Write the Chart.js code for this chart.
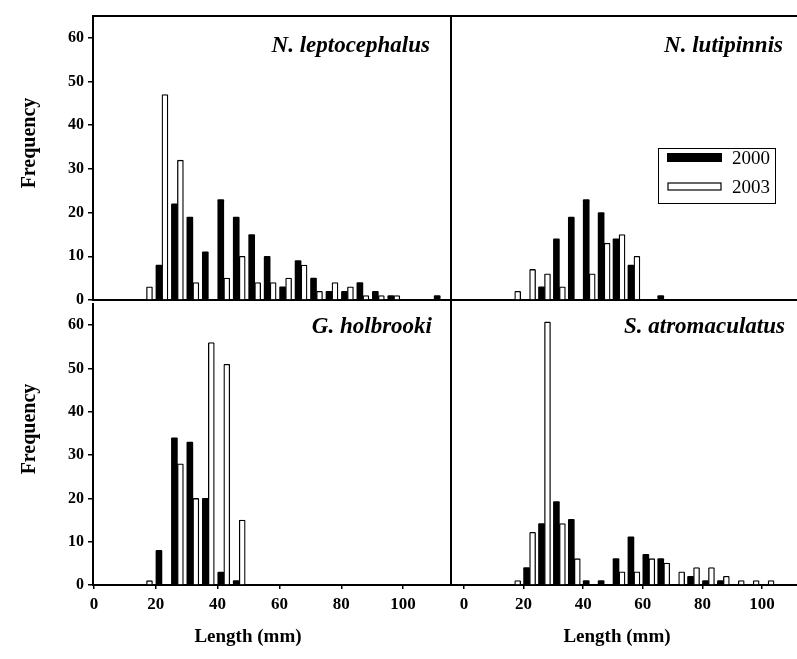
<!DOCTYPE html>
<html>
<head>
<meta charset="utf-8">
<script src="https://cdn.jsdelivr.net/npm/chart.js@4.4.0/dist/chart.umd.min.js"></script>
<style>
  body { margin: 0; background: #fff; width: 797px; height: 659px; position: relative; overflow: hidden; }
  canvas { position: absolute; }
</style>
</head>
<body>
<canvas id="tl" width="452" height="320" style="left:0;top:0"></canvas>
<canvas id="tr" width="357" height="320" style="left:440px;top:0"></canvas>
<canvas id="bl" width="452" height="369" style="left:0;top:290px"></canvas>
<canvas id="br" width="357" height="369" style="left:440px;top:290px"></canvas>
<script>
// length classes (mm, class midpoints) shared by all four panels
const bins = [17, 22, 27, 32, 37, 42, 47, 52, 57, 62, 67, 72, 77, 82, 87, 92, 97, 102, 107, 112];
const xTicks = [0, 20, 40, 60, 80, 100];
const yTicks = [0, 10, 20, 30, 40, 50, 60];
const years = ['2000', '2003'];

const leptocephalus2000 = [0, 8, 22, 19, 11, 23, 19, 15, 10, 3, 9, 5, 2, 2, 4, 2, 1, 0, 0, 1];
const leptocephalus2003 = [3, 47, 32, 4, 0, 5, 10, 4, 4, 5, 8, 2, 4, 3, 1, 1, 1, 0, 0, 0];
const lutipinnis2000 = [0, 0, 3, 14, 19, 23, 20, 14, 8, 0, 1, 0, 0, 0, 0, 0, 0, 0, 0, 0];
const lutipinnis2003 = [2, 7, 6, 3, 0, 6, 13, 15, 10, 0, 0, 0, 0, 0, 0, 0, 0, 0, 0, 0];
const holbrooki2000 = [0, 8, 34, 33, 20, 3, 1, 0, 0, 0, 0, 0, 0, 0, 0, 0, 0, 0, 0, 0];
const holbrooki2003 = [1, 0, 28, 20, 56, 51, 15, 0, 0, 0, 0, 0, 0, 0, 0, 0, 0, 0, 0, 0];
const atromaculatus2000 = [0, 4, 14, 19, 15, 1, 1, 6, 11, 7, 6, 0, 2, 1, 1, 0, 0, 0, 0, 0];
const atromaculatus2003 = [1, 12, 60, 14, 6, 0, 0, 3, 3, 6, 5, 3, 4, 4, 2, 1, 1, 1, 0, 1];

const serif = '"Liberation Serif", "Times New Roman", serif';

// species names, axis titles, legend and the top frame line
const panelText = {
  id: 'panelText',
  afterDraw(chart, args, opts) {
    const ctx = chart.ctx;
    const area = chart.chartArea;
    ctx.save();
    ctx.fillStyle = '#000';
    ctx.strokeStyle = '#000';

    if (opts.topLine) {
      ctx.lineWidth = 2;
      ctx.beginPath();
      ctx.moveTo(area.left, area.top);
      ctx.lineTo(area.right, area.top);
      ctx.stroke();
    }

    ctx.font = 'italic bold 23px ' + serif;
    ctx.textAlign = 'right';
    ctx.textBaseline = 'alphabetic';
    ctx.fillText(opts.name, opts.nameX, opts.nameY);

    if (opts.freq) {
      ctx.save();
      ctx.translate(opts.freq[0], opts.freq[1]);
      ctx.rotate(-Math.PI / 2);
      ctx.font = 'bold 20px ' + serif;
      ctx.textAlign = 'center';
      ctx.textBaseline = 'middle';
      ctx.fillText('Frequency', 0, 0);
      ctx.restore();
    }

    if (opts.length) {
      ctx.font = 'bold 19px ' + serif;
      ctx.textAlign = 'center';
      ctx.textBaseline = 'middle';
      ctx.fillText('Length (mm)', opts.length[0], opts.length[1]);
    }

    if (opts.legend) {
      const [lx, ly] = opts.legend;
      const sets = chart.data.datasets;
      ctx.lineWidth = 1;
      ctx.strokeRect(lx + 0.5, ly + 0.5, 117, 55);
      ctx.fillRect(lx + 9, ly + 5, 55, 9);
      ctx.fillStyle = '#fff';
      ctx.fillRect(lx + 10, ly + 35, 53, 7);
      ctx.lineWidth = 1.2;
      ctx.strokeRect(lx + 10, ly + 35, 53, 7);
      ctx.fillStyle = '#000';
      ctx.font = '19px ' + serif;
      ctx.textAlign = 'left';
      ctx.textBaseline = 'middle';
      ctx.fillText(sets[0].label, lx + 74, ly + 11);
      ctx.fillText(sets[1].label, lx + 74, ly + 40);
    }
    ctx.restore();
  }
};

function makeChart(id, a2000, a2003, cfg) {
  const left = cfg.left;
  const bottom = cfg.bottom;
  new Chart(document.getElementById(id), {
    type: 'bar',
    data: {
      datasets: [
        {
          label: years[0],
          data: bins.map((b, i) => ({ x: b, y: a2000[i] })),
          backgroundColor: '#000',
          borderColor: '#000',
          borderWidth: 0,
          borderRadius: 1,
          barThickness: 6,
        },
        {
          label: years[1],
          data: bins.map((b, i) => ({ x: b, y: a2003[i] })),
          backgroundColor: '#fff',
          borderColor: '#000',
          borderWidth: 1.3,
          borderRadius: 1,
          barThickness: 6,
        },
      ],
    },
    options: {
      responsive: false,
      animation: false,
      devicePixelRatio: 1,
      layout: { padding: cfg.padding },
      scales: {
        x: {
          type: 'linear',
          min: cfg.xmin,
          max: cfg.xmax,
          offset: false,
          afterBuildTicks: axis => { axis.ticks = xTicks.map(v => ({ value: v })); },
          afterFit: s => { s.height = cfg.xHeight; },
          grid: {
            offset: false,
            drawOnChartArea: false,
            drawTicks: bottom,
            tickLength: 4,
            color: '#000',
            lineWidth: 1.5,
          },
          border: { display: true, color: '#000', width: 2 },
          ticks: {
            display: bottom,
            color: '#000',
            padding: 5,
            maxRotation: 0,
            autoSkip: false,
            font: { family: serif, size: 17, weight: 'bold' },
          },
        },
        y: {
          min: 0,
          max: 65,
          afterBuildTicks: axis => { axis.ticks = yTicks.map(v => ({ value: v })); },
          afterFit: s => { s.width = left ? 93 : 0; },
          grid: {
            drawOnChartArea: false,
            drawTicks: left,
            tickLength: 5,
            color: '#000',
            lineWidth: 1.5,
          },
          border: { display: true, color: '#000', width: 2 },
          ticks: {
            display: left,
            color: '#000',
            padding: 4,
            font: { family: serif, size: 16, weight: 'bold' },
          },
        },
      },
      plugins: {
        legend: { display: false },
        tooltip: { enabled: false },
        panelText: cfg.text,
      },
    },
    plugins: [panelText],
  });
}

makeChart('tl', leptocephalus2000, leptocephalus2003, {
  left: true, bottom: false, xmin: -0.3, xmax: 115.5, xHeight: 20,
  padding: { left: 0, top: 16, right: 1, bottom: 0 },
  text: { name: 'N. leptocephalus', nameX: 430, nameY: 52, freq: [30, 143], topLine: true },
});
makeChart('tr', lutipinnis2000, lutipinnis2003, {
  left: false, bottom: false, xmin: -4.36, xmax: 111.7, xHeight: 20,
  padding: { left: 11, top: 16, right: 0, bottom: 0 },
  text: { name: 'N. lutipinnis', nameX: 343, nameY: 52, legend: [218, 148], topLine: true },
});
makeChart('bl', holbrooki2000, holbrooki2003, {
  left: true, bottom: true, xmin: -0.3, xmax: 115.5, xHeight: 74,
  padding: { left: 0, top: 10, right: 1, bottom: 0 },
  text: { name: 'G. holbrooki', nameX: 432, nameY: 43, freq: [30, 139], length: [248, 347] },
});
makeChart('br', atromaculatus2000, atromaculatus2003, {
  left: false, bottom: true, xmin: -4.36, xmax: 111.7, xHeight: 74,
  padding: { left: 11, top: 10, right: 0, bottom: 0 },
  text: { name: 'S. atromaculatus', nameX: 345, nameY: 43, length: [177, 347] },
});
</script>
</body>
</html>
